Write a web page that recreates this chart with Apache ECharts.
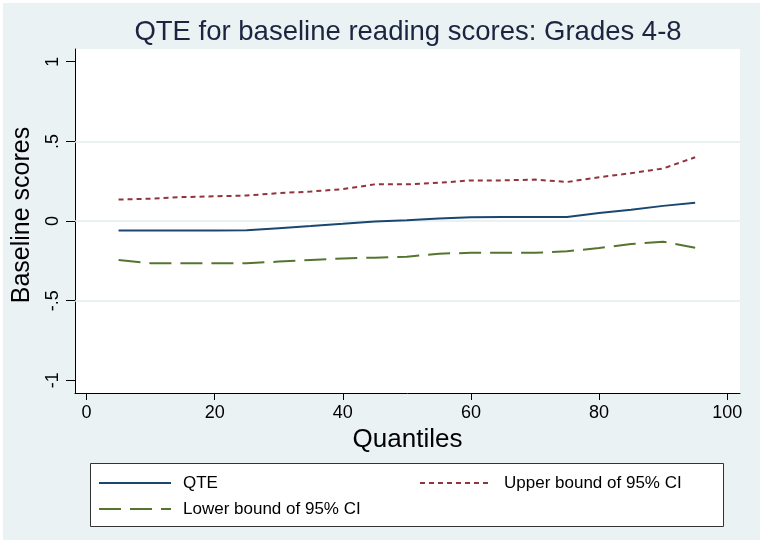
<!DOCTYPE html>
<html>
<head>
<meta charset="utf-8">
<script src="https://cdn.jsdelivr.net/npm/echarts@6/dist/echarts.min.js"></script>
<style>
html,body{margin:0;padding:0;background:#ffffff;}
#chart{width:764px;height:546px;}
</style>
</head>
<body>
<div id="chart"></div>
<script>
// ---- data ----
var quantiles = [5,10,15,20,25,30,35,40,45,50,55,60,65,70,75,80,85,90,95];
var qte   = [-0.06,-0.06,-0.06,-0.06,-0.058,-0.045,-0.032,-0.018,-0.003,0.005,0.015,0.023,0.025,0.025,0.025,0.05,0.07,0.095,0.115];
var upper = [0.135,0.14,0.15,0.155,0.16,0.175,0.185,0.2,0.23,0.23,0.24,0.255,0.255,0.26,0.245,0.275,0.3,0.33,0.4];
var lower = [-0.245,-0.265,-0.265,-0.265,-0.265,-0.255,-0.245,-0.235,-0.23,-0.225,-0.205,-0.2,-0.2,-0.2,-0.19,-0.17,-0.145,-0.13,-0.168];
var xTicks = [0,20,40,60,80,100];
var yTicks = [-1,-0.5,0,0.5,1];
var yGrid = [-0.5,0,0.5];
var seriesNames = ['QTE','Upper bound of 95% CI','Lower bound of 95% CI'];

function pairs(vals){ return quantiles.map(function(q,i){ return [q, vals[i]]; }); }
function stataNum(v){
  if (v === 0) return '0';
  var s = String(Math.abs(v)).replace(/^0/, '');
  return (v < 0 ? '-' : '') + s;
}

var FONT = '"Liberation Sans", Arial, Helvetica, sans-serif';
var legendText = {fontFamily: FONT, fontSize: 17, color: '#000000', lineHeight: 18, padding: [0,0,0,7]};
var hiddenSymbol = {color: 'rgba(0,0,0,0)', opacity: 0, borderWidth: 0};
var chart = echarts.init(document.getElementById('chart'), null, {renderer:'canvas'});
chart.setOption({
  backgroundColor: '#ffffff',
  animation: false,
  textStyle: {fontFamily: FONT},
  graphic: [
    {type:'rect', z:-10, silent:true, shape:{x:3,y:3,width:757,height:537}, style:{fill:'#eaf2f3'}},
    {type:'rect', z:1, silent:true, shape:{x:90.5,y:463.5,width:633,height:63}, style:{fill:'#ffffff', stroke:'#333333', lineWidth:1}}
  ],
  title: {
    text: 'QTE for baseline reading scores: Grades 4-8',
    left: 403, top: 13, textAlign: 'center',
    textStyle: {fontFamily: FONT, fontSize: 27.5, fontWeight: 'normal', color: '#1c2540'}
  },
  grid: {left: 75, right: 24, top: 49, bottom: 153, show: true, backgroundColor: '#ffffff', borderWidth: 0, containLabel: false},
  xAxis: {
    type: 'value', min: -1.8, max: 102,
    name: 'Quantiles', nameLocation: 'middle', nameGap: 30,
    nameTextStyle: {fontFamily: FONT, fontSize: 26, color: '#000000'},
    axisLine: {show: true, onZero: false, lineStyle: {color: '#000000', width: 1}},
    axisTick: {show: true, length: 7, customValues: xTicks, lineStyle: {color: '#000000'}},
    axisLabel: {customValues: xTicks, margin: 11, fontFamily: FONT, fontSize: 18, color: '#000000'},
    splitLine: {show: false}
  },
  yAxis: {
    type: 'value', min: -1.08, max: 1.08,
    name: 'Baseline scores', nameLocation: 'middle', nameGap: 40,
    nameTextStyle: {fontFamily: FONT, fontSize: 25, color: '#000000', padding: [0,0,0,12]},
    axisLine: {show: true, onZero: false, lineStyle: {color: '#000000', width: 1}},
    axisTick: {show: true, length: 9, customValues: yTicks, lineStyle: {color: '#000000'}},
    axisLabel: {customValues: yTicks, rotate: 90, margin: 13, fontFamily: FONT, fontSize: 18, color: '#000000', formatter: function(v){ return stataNum(v); }},
    splitLine: {show: false}
  },
  legend: [
    {
      data: [seriesNames[0], seriesNames[2]], orient: 'vertical', left: 98, top: 474, padding: 0,
      itemWidth: 72, itemHeight: 14, itemGap: 8, z: 5,
      itemStyle: hiddenSymbol,
      textStyle: legendText
    },
    {
      data: [seriesNames[1]], orient: 'vertical', left: 419, top: 474, padding: 0,
      itemWidth: 72, itemHeight: 14, z: 5,
      itemStyle: hiddenSymbol,
      textStyle: legendText
    }
  ],
  series: [
    {
      name: seriesNames[0], type: 'line', data: pairs(qte), symbol: 'none', showSymbol: false,
      lineStyle: {color: '#1a476f', width: 2}, itemStyle: {color: '#1a476f'}, z: 3,
      markLine: {
        silent: true, symbol: 'none', label: {show: false}, z: 1,
        lineStyle: {color: '#e3edef', width: 1.5, type: 'solid'},
        data: yGrid.map(function(v){ return {yAxis: v}; })
      }
    },
    {
      name: seriesNames[1], type: 'line', data: pairs(upper), symbol: 'none', showSymbol: false,
      lineStyle: {color: '#90353b', width: 2, type: [5,4]}, itemStyle: {color: '#90353b'}, z: 3
    },
    {
      name: seriesNames[2], type: 'line', data: pairs(lower), symbol: 'none', showSymbol: false,
      lineStyle: {color: '#55752f', width: 2, type: [22,9]}, itemStyle: {color: '#55752f'}, z: 3
    }
  ]
});
</script>
</body>
</html>
